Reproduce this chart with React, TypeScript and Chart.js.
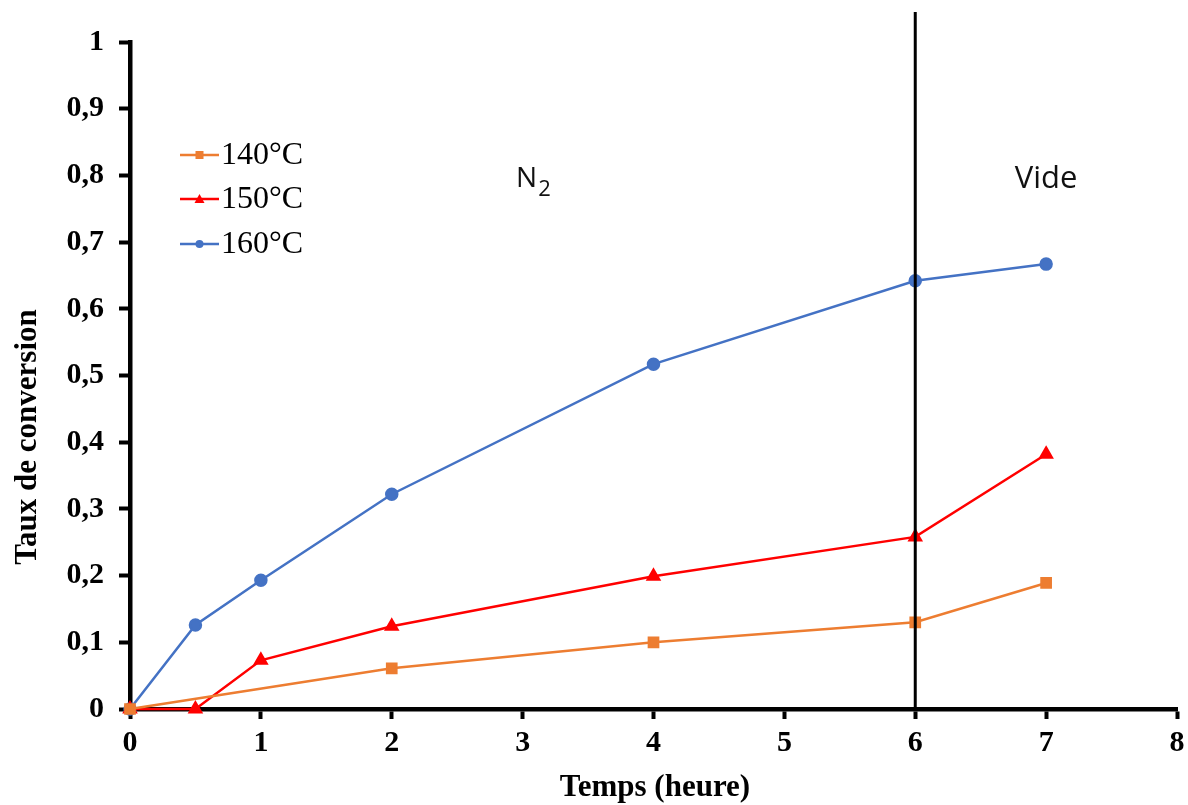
import React, { useEffect, useRef } from "react";
import { Chart, registerables } from "chart.js";

Chart.register(...registerables);

const xTimes = [0, 0.5, 1, 2, 4, 6, 7];
const xTimes140 = [0, 2, 4, 6, 7];
const values140 = [0, 0.061, 0.1, 0.13, 0.189];
const values150 = [0, 0, 0.073, 0.124, 0.199, 0.258, 0.382];
const values160 = [0, 0.126, 0.193, 0.322, 0.517, 0.642, 0.667];
const seriesLabels = ["140°C", "150°C", "160°C"];
const xTitle = "Temps (heure)";
const yTitle = "Taux de conversion";
const zoneLabels = ["N", "Vide"];
const separatorX = 6;

const SERIF = "'Liberation Serif', 'Times New Roman', serif";
const SANS = "'Open Sans', 'Noto Sans', sans-serif";

const overlayPlugin = {
  id: "overlay",
  afterDatasetsDraw(chart: any) {
    const ctx = chart.ctx;
    const xs = chart.scales.x;
    const ys = chart.scales.y;
    const area = chart.chartArea;
    ctx.save();
    // separator line
    const px = xs.getPixelForValue(separatorX);
    ctx.strokeStyle = "#000";
    ctx.lineWidth = 3;
    ctx.beginPath();
    ctx.moveTo(px, ys.getPixelForValue(1.045));
    ctx.lineTo(px, area.bottom);
    ctx.stroke();

    // zone labels
    ctx.fillStyle = "#111";
    ctx.font = `28px ${SANS}`;
    ctx.textBaseline = "alphabetic";
    ctx.textAlign = "left";
    const nX = xs.getPixelForValue(2.95);
    const nY = ys.getPixelForValue(0.783);
    ctx.fillText(zoneLabels[0], nX, nY);
    const nW = ctx.measureText(zoneLabels[0]).width;
    ctx.font = `22px ${SANS}`;
    ctx.fillText("2", nX + nW + 1, nY + 9);
    ctx.font = `31px ${SANS}`;
    ctx.textAlign = "center";
    ctx.fillText(zoneLabels[1], xs.getPixelForValue(7.0), ys.getPixelForValue(0.781));

    // legend
    const datasets = chart.data.datasets;
    const legendYs = [155, 199, 244];
    datasets.forEach((ds: any, i: number) => {
      const y = legendYs[i];
      ctx.strokeStyle = ds.borderColor;
      ctx.lineWidth = 2.5;
      ctx.beginPath();
      ctx.moveTo(180, y);
      ctx.lineTo(219, y);
      ctx.stroke();
      ctx.fillStyle = ds.borderColor;
      const cx = 199.5;
      if (ds.pointStyle === "rect") {
        ctx.fillRect(cx - 4, y - 4, 8, 8);
      } else if (ds.pointStyle === "triangle") {
        ctx.beginPath();
        ctx.moveTo(cx, y - 5);
        ctx.lineTo(cx + 5, y + 4);
        ctx.lineTo(cx - 5, y + 4);
        ctx.closePath();
        ctx.fill();
      } else {
        ctx.beginPath();
        ctx.arc(cx, y, 4, 0, Math.PI * 2);
        ctx.fill();
      }
      ctx.fillStyle = "#000";
      ctx.font = `32px ${SERIF}`;
      ctx.textAlign = "left";
      ctx.textBaseline = "middle";
      ctx.fillText(ds.label, 221, y + 1);
    });

    // axis titles
    ctx.fillStyle = "#000";
    ctx.font = `bold 31px ${SERIF}`;
    ctx.textAlign = "center";
    ctx.textBaseline = "middle";
    ctx.fillText(xTitle, 655, 788);
    ctx.translate(28, 437);
    ctx.rotate(-Math.PI / 2);
    ctx.fillText(yTitle, 0, 0);
    ctx.restore();
  },
};

function fmt(v: number) {
  const r = Math.round(v * 10) / 10;
  return String(r).replace(".", ",");
}

export default function App() {
  const ref = useRef<HTMLCanvasElement | null>(null);
  useEffect(() => {
    if (!ref.current) return;
    const chart = new Chart(ref.current, {
      type: "line",
      data: {
        datasets: [
          {
            label: seriesLabels[0],
            data: xTimes140.map((x, i) => ({ x, y: values140[i] })),
            borderColor: "#ED7D31",
            backgroundColor: "#ED7D31",
            pointStyle: "rect",
            pointRadius: 6.5,
            borderWidth: 2.5,
            clip: false as any,
          },
          {
            label: seriesLabels[1],
            data: xTimes.map((x, i) => ({ x, y: values150[i] })),
            borderColor: "#FF0000",
            backgroundColor: "#FF0000",
            pointStyle: "triangle",
            pointRadius: 6.5,
            borderWidth: 2.5,
            clip: false as any,
          },
          {
            label: seriesLabels[2],
            data: xTimes.map((x, i) => ({ x, y: values160[i] })),
            borderColor: "#4472C4",
            backgroundColor: "#4472C4",
            pointStyle: "circle",
            pointRadius: 5.5,
            borderWidth: 2.5,
            clip: false as any,
          },
        ],
      },
      options: {
        animation: false,
        responsive: false,
        maintainAspectRatio: false,
        layout: { padding: { left: 0, right: 11, top: 42, bottom: 0 } },
        plugins: { legend: { display: false }, tooltip: { enabled: false } },
        scales: {
          x: {
            type: "linear",
            min: 0,
            max: 8,
            ticks: {
              stepSize: 1,
              color: "#000",
              font: { family: SERIF, size: 30, weight: "bold" },
              padding: 6,
              maxRotation: 0,
            },
            grid: {
              drawOnChartArea: false,
              drawTicks: true,
              tickLength: 10,
              tickWidth: 4,
              tickColor: "#000",
            },
            border: { display: true, color: "#000", width: 4.5 },
            afterFit: (s: any) => {
              s.height = 96;
              s.paddingRight = 0;
              s.paddingLeft = 0;
            },
          },
          y: {
            type: "linear",
            min: 0,
            max: 1,
            ticks: {
              stepSize: 0.1,
              color: "#000",
              font: { family: SERIF, size: 30, weight: "bold" },
              padding: 15,
              callback: (v: any) => fmt(Number(v)),
            },
            grid: {
              drawOnChartArea: false,
              drawTicks: true,
              tickLength: 11,
              tickWidth: 4,
              tickColor: "#000",
            },
            border: { display: true, color: "#000", width: 4.5 },
            afterFit: (s: any) => {
              s.width = 130;
              s.paddingTop = 0;
              s.paddingBottom = 0;
            },
          },
        },
      },
      plugins: [overlayPlugin],
    } as any);
    return () => chart.destroy();
  }, []);
  return (
    <div style={{ position: "absolute", left: 0, top: 0, width: 1188, height: 805, background: "#fff" }}>
      <canvas ref={ref} width={1188} height={805} style={{ width: 1188, height: 805, display: "block" }} />
    </div>
  );
}
